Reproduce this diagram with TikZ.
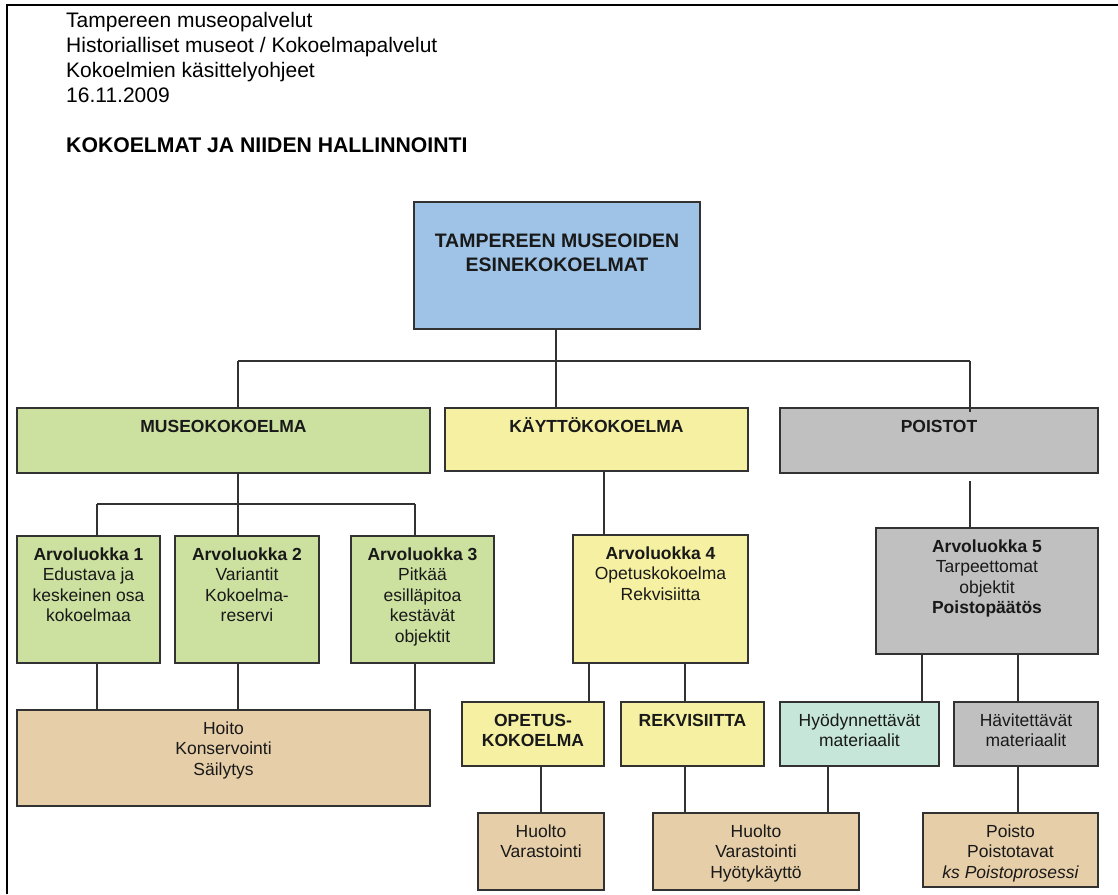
\documentclass[tikz,border=0pt]{standalone}
\usepackage{fontspec}
\setmainfont{Liberation Sans}
\definecolor{cblue}{RGB}{158,195,230}
\definecolor{cgreen}{RGB}{204,224,160}
\definecolor{cyellow}{RGB}{245,240,162}
\definecolor{cgray}{RGB}{192,192,192}
\definecolor{ctan}{RGB}{230,206,168}
\definecolor{cmint}{RGB}{197,230,216}
\definecolor{cline}{RGB}{50,50,50}
\newcommand\fst{\rule{0pt}{16pt}}
\tikzset{
  box/.style={draw=cline, line width=1.3pt, inner sep=0pt, outer sep=0pt, anchor=north west},
  txt/.style={anchor=north, align=center, inner sep=0pt, text=black!90,
    font=\fontsize{17.5}{20.5}\selectfont},
  hdr/.style={anchor=north west, align=left, inner sep=0pt, text=black,
    font=\fontsize{21}{25}\selectfont},
  conn/.style={draw=cline, line width=1.2pt},
}
\newcommand\bx[7]{% name, x1, y1, x2, y2, fill, text
  \node[box, fill=#6, minimum width={#4-#2}, minimum height={#5-#3}] (#1) at (#2,#3) {};
  \node[txt] (#1-label) at ([yshift=-8pt]#1.north) {\fst #7};
}
\begin{document}
\begin{tikzpicture}[x=1pt,y=-1pt]
\useasboundingbox (0,0) rectangle (1118,894);
\fill[white] (0,0) rectangle (1118,894);
% page border
\draw[line width=2.5pt] (7,894) -- (7,5) -- (1118,5);
% header
\node[hdr] (head) at (66,8.3) {\rule{0pt}{19pt}Tampereen museopalvelut\\Historialliset museot / Kokoelmapalvelut\\Kokoelmien käsittelyohjeet\\16.11.2009};
\node[hdr, font=\fontsize{21.2}{25}\selectfont\bfseries] (title) at (66,133.3) {\rule{0pt}{19pt}KOKOELMAT JA NIIDEN HALLINNOINTI};
% top box
\node[box, fill=cblue, minimum width=286, minimum height=127] (top) at (414,202) {};
\node[txt, font=\fontsize{19.5}{24}\selectfont\bfseries] (top-label) at ([yshift=-27pt]top.north) {\rule{0pt}{18pt}TAMPEREEN MUSEOIDEN\\ESINEKOKOELMAT};
% level 1
\bx{museo}{17}{408}{430}{473}{cgreen}{\bfseries MUSEOKOKOELMA}
\bx{kaytto}{445}{408}{748}{471}{cyellow}{\bfseries KÄYTTÖKOKOELMA}
\bx{poistot}{780}{408}{1098}{473}{cgray}{\bfseries POISTOT}
% museo branch
\bx{a1}{17}{536}{160}{663}{cgreen}{\textbf{Arvoluokka 1}\\Edustava ja\\keskeinen osa\\kokoelmaa}
\bx{a2}{175}{536}{319}{663}{cgreen}{\textbf{Arvoluokka 2}\\Variantit\\Kokoelma-\\reservi}
\bx{a3}{351}{536}{494}{663}{cgreen}{\textbf{Arvoluokka 3}\\Pitkää\\esilläpitoa\\kestävät\\objektit}
\bx{hoito}{17}{710}{430}{806}{ctan}{Hoito\\Konservointi\\Säilytys}
% kaytto branch
\bx{a4}{573}{535}{748}{663}{cyellow}{\textbf{Arvoluokka 4}\\Opetuskokoelma\\Rekvisiitta}
\bx{opetus}{462}{702}{604}{766}{cyellow}{\bfseries OPETUS-\\\bfseries KOKOELMA}
\bx{rekv}{621}{702}{764}{766}{cyellow}{\bfseries REKVISIITTA}
\bx{huolto1}{478}{813}{604}{890}{ctan}{Huolto\\Varastointi}
\bx{huolto2}{653}{813}{859}{890}{ctan}{Huolto\\Varastointi\\Hyötykäyttö}
% poistot branch
\bx{a5}{876}{528}{1098}{654}{cgray}{\textbf{Arvoluokka 5}\\Tarpeettomat\\objektit\\\textbf{Poistopäätös}}
\bx{hyod}{780}{702}{939}{766}{cmint}{Hyödynnettävät\\materiaalit}
\bx{havit}{954}{702}{1098}{766}{cgray}{Hävitettävät\\materiaalit}
\bx{poisto}{923}{813}{1098}{887}{ctan}{Poisto\\Poistotavat\\\itshape ks Poistoprosessi}
% connectors: level 0 -> 1
\coordinate (bus0) at (556,361);
\coordinate (bus0l) at (238,361);
\coordinate (bus0r) at (970,361);
\draw[conn] (bus0 |- top.south) -- (bus0);
\draw[conn] (bus0l) -- (bus0r);
\draw[conn] (bus0l) -- (bus0l |- museo.north);
\draw[conn] (bus0) -- (bus0 |- kaytto.north);
\coordinate (bus0e) at (970,412);
\draw[conn] (bus0r) -- (bus0e);
% museo -> a1..a3
\coordinate (bus1) at (238,504);
\coordinate (bus1l) at (97,504);
\coordinate (bus1r) at (415,504);
\draw[conn] (bus1 |- museo.south) -- (bus1);
\draw[conn] (bus1l) -- (bus1r);
\draw[conn] (bus1l) -- (bus1l |- a1.north);
\draw[conn] (bus1) -- (bus1 |- a2.north);
\draw[conn] (bus1r) -- (bus1r |- a3.north);
% a1..a3 -> hoito
\draw[conn] (bus1l |- a1.south) -- (bus1l |- hoito.north);
\draw[conn] (bus1 |- a2.south) -- (bus1 |- hoito.north);
\draw[conn] (bus1r |- a3.south) -- (bus1r |- hoito.north);
% kaytto -> a4
\coordinate (k4) at (604,0);
\draw[conn] (k4 |- kaytto.south) -- (k4 |- a4.north);
\coordinate (k5) at (589,0);
\coordinate (k6) at (685,0);
\draw[conn] (k5 |- a4.south) -- (k5 |- opetus.north);
\draw[conn] (k6 |- a4.south) -- (k6 |- rekv.north);
\coordinate (k7) at (541,0);
\draw[conn] (k7 |- opetus.south) -- (k7 |- huolto1.north);
\draw[conn] (k6 |- rekv.south) -- (k6 |- huolto2.north);
% poistot -> a5
\coordinate (p1) at (970,481);
\draw[conn] (p1) -- (p1 |- a5.north);
\coordinate (p2) at (922,0);
\coordinate (p3) at (1018,0);
\draw[conn] (p2 |- a5.south) -- (p2 |- hyod.north);
\draw[conn] (p3 |- a5.south) -- (p3 |- havit.north);
\coordinate (p4) at (828,0);
\draw[conn] (p4 |- hyod.south) -- (p4 |- huolto2.north);
\draw[conn] (p3 |- havit.south) -- (p3 |- poisto.north);
\end{tikzpicture}
\end{document}
